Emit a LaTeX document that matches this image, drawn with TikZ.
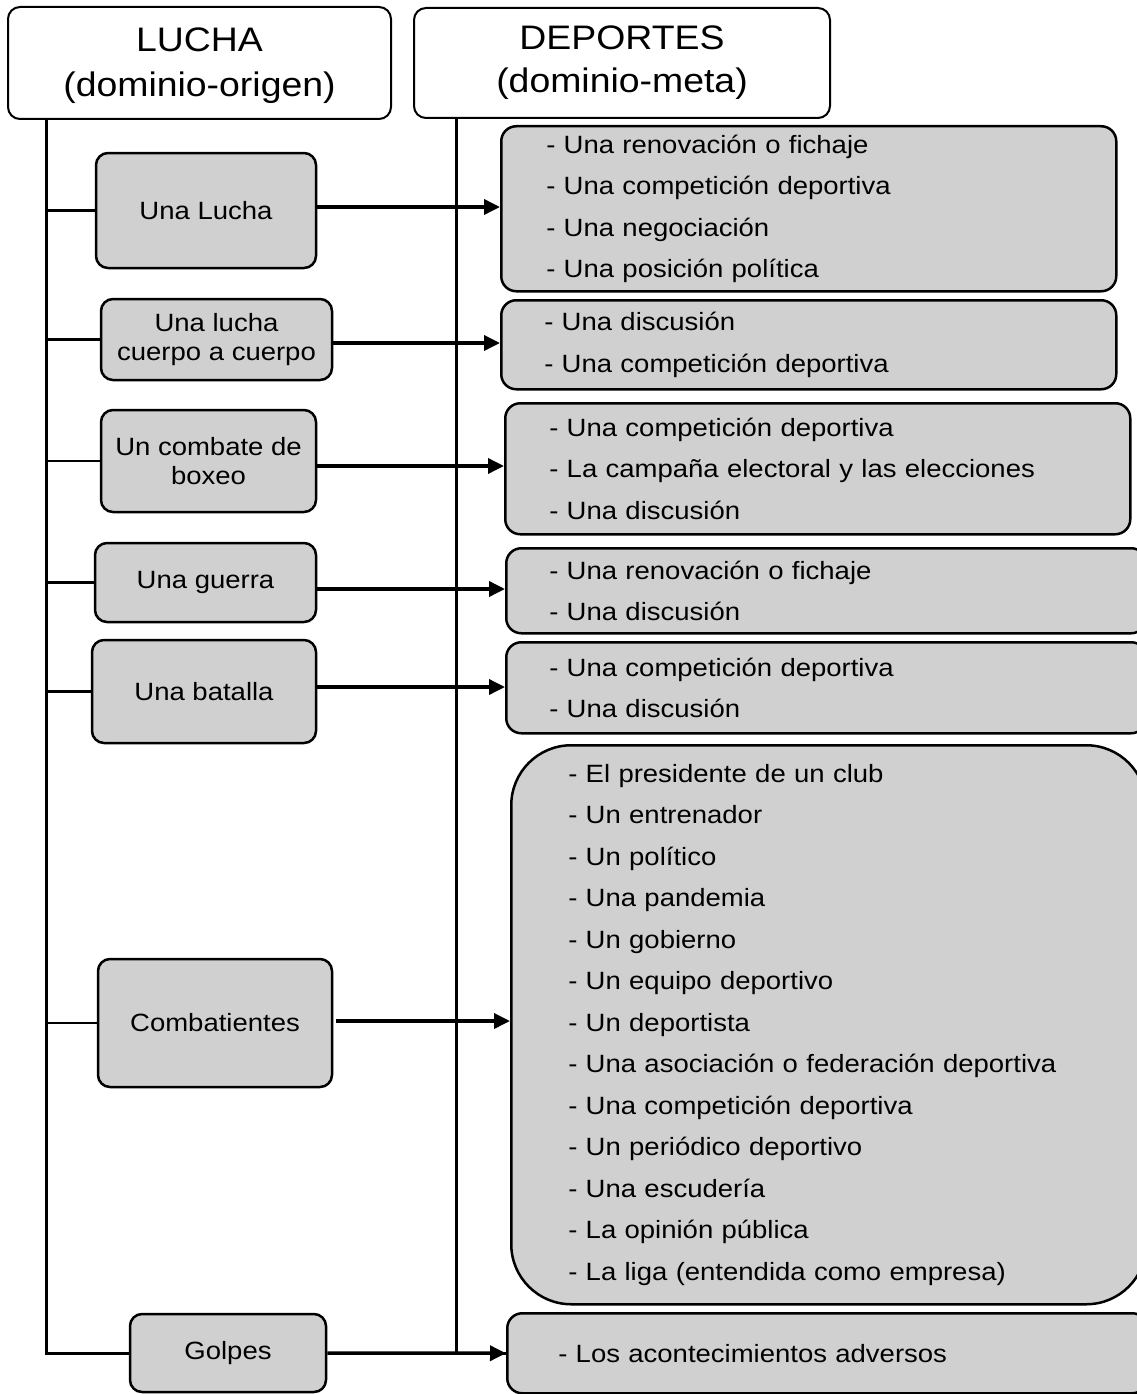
\documentclass[tikz,border=0pt]{standalone}
\usepackage{fontspec}
\setmainfont{Liberation Sans}[FakeStretch=1.1]
\usetikzlibrary{arrows.meta}
\definecolor{boxgray}{RGB}{208,208,208}
\begin{document}
\begin{tikzpicture}[x=1pt,y=-1pt,
  head/.style={draw, line width=2pt, rounded corners=12pt, fill=white,
    font=\fontsize{34}{43}\selectfont, align=center, inner sep=0pt},
  headtext/.style={font=\fontsize{34}{45}\selectfont, align=center, inner sep=0pt},
  src/.style={draw, line width=2.5pt, rounded corners=12pt, fill=boxgray,
    font=\fontsize{25}{28.5}\selectfont, align=center, inner sep=0pt},
  tgt/.style={draw, line width=2.5pt, rounded corners=15pt, fill=boxgray,
    font=\fontsize{25}{41.5}\selectfont, align=left, anchor=north west,
    inner ysep=0pt},
  link/.style={line width=2.5pt},
  trunk/.style={line width=3pt},
  arr/.style={line width=3.5pt, -{Triangle[length=16pt,width=15pt]}}
]
\useasboundingbox (0,0) rectangle (1137,1394);
\clip (0,0) rectangle (1137,1394);

% column headings
\node[head, minimum width=383, minimum height=112] (lucha) at (199.5,63) {};
\node[headtext] (luchatext) at (199.5,66) {LUCHA\\(dominio-origen)};
\node[head, minimum width=416, minimum height=110] (deportes) at (622,63)
  {DEPORTES\\(dominio-meta)};

% source-domain concepts
\node[src, minimum width=220, minimum height=115] (a1) at (206,210.5) {Una Lucha};
\node[src, minimum width=231, minimum height=81]  (a2) at (216.5,339.5) {Una lucha\\cuerpo a cuerpo};
\node[src, minimum width=215, minimum height=102] (a3) at (208.5,461) {Un combate de\\boxeo};
\node[src, minimum width=221, minimum height=79]  (a4) at (205.5,582.5) {Una guerra};
\node[src, minimum width=224, minimum height=103] (a5) at (204,691.5) {Una batalla};
\node[src, minimum width=234, minimum height=128] (a6) at (215,1023) {Combatientes};
\node[src, minimum width=196, minimum height=78]  (a7) at (228,1353) {Golpes};

% target-domain lists
\node[tgt, minimum width=615, minimum height=165, inner xsep=45, text width=525] (b1) at (500,125)
  {- Una renovación o fichaje\\- Una competición deportiva\\- Una negociación\\- Una posición política};
\node[tgt, minimum width=615, minimum height=89, inner xsep=43, text width=529] (b2) at (500,299)
  {- Una discusión\\- Una competición deportiva};
\node[tgt, minimum width=625, minimum height=131, inner xsep=44, text width=537] (b3) at (504,402)
  {- Una competición deportiva\\- La campaña electoral y las elecciones\\- Una discusión};
\node[tgt, minimum width=640, minimum height=85, inner xsep=43, text width=554] (b4) at (505,547)
  {- Una renovación o fichaje\\- Una discusión};
\node[tgt, minimum width=640, minimum height=91, inner xsep=43, text width=554] (b5) at (505,641)
  {- Una competición deportiva\\- Una discusión};
\node[tgt, rounded corners=60pt, minimum width=635, minimum height=559, inner xsep=57, text width=521] (b6) at (510,744)
  {- El presidente de un club\\- Un entrenador\\- Un político\\- Una pandemia\\- Un gobierno\\- Un equipo deportivo\\- Un deportista\\- Una asociación o federación deportiva\\- Una competición deportiva\\- Un periódico deportivo\\- Una escudería\\- La opinión pública\\- La liga (entendida como empresa)};
\node[tgt, minimum width=640, minimum height=80, inner xsep=51, text width=538] (b7) at (506,1312)
  {- Los acontecimientos adversos};

% trunk lines under the headings
\coordinate (lt) at (46,119);
\coordinate (rt) at (456,118);
\draw[trunk] (lt) |- (a7.west);
\draw[trunk] (rt) |- (b7.west);

% branches from the left trunk
\foreach \n in {a1,a2,a3,a4,a5,a6}
  \draw[link] (\n.west -| lt) -- (\n.west);

% mapping arrows
\draw[arr] ([yshift=3.5pt]a1.east) -- ([yshift=3.5pt]a1.east -| b1.west);
\draw[arr] ([yshift=-3.5pt]a2.east) -- ([yshift=-3.5pt]a2.east -| b2.west);
\draw[arr] ([yshift=-5pt]a3.east) -- ([yshift=-5pt]a3.east -| b3.west);
\draw[arr] ([yshift=-6.5pt]a4.east) -- ([yshift=-6.5pt]a4.east -| b4.west);
\draw[arr] ([yshift=4.5pt]a5.east) -- ([yshift=4.5pt]a5.east -| b5.west);
\draw[arr] ([xshift=3pt,yshift=2pt]a6.east) -- ([yshift=2pt]a6.east -| b6.west);
\draw[arr] (a7.east) -- (b7.west);
\end{tikzpicture}
\end{document}
